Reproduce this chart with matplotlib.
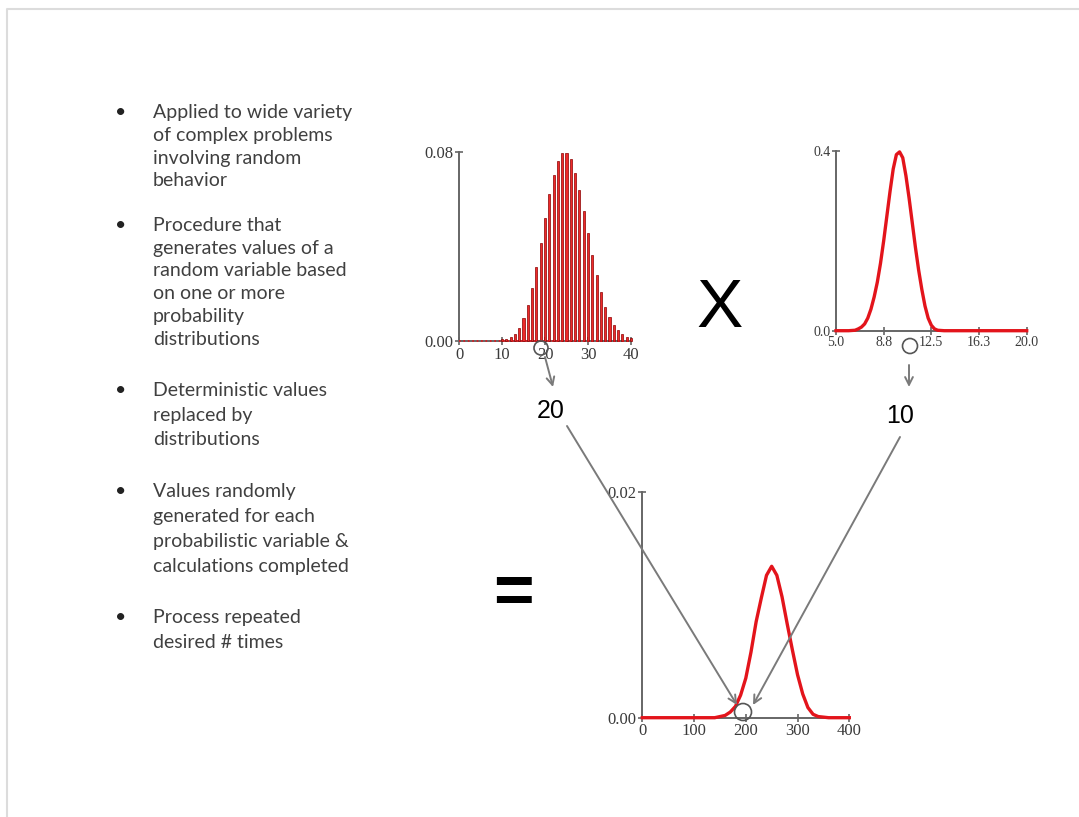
import matplotlib
matplotlib.use('Agg')
import matplotlib.pyplot as plt
from matplotlib.patches import Circle

W, H = 1079, 817

# bullet text
bullets = [
    ["Applied to wide variety", "of complex problems", "involving random", "behavior"],
    ["Procedure that", "generates values of a", "random variable based",
     "on one or more", "probability", "distributions"],
    ["Deterministic values", "replaced by", "distributions"],
    ["Values randomly", "generated for each", "probabilistic variable &",
     "calculations completed"],
    ["Process repeated", "desired # times"],
]

# first distribution (histogram)
hist_x = list(range(10, 41))
hist_y = [0.001, 0.0012, 0.0017, 0.0033, 0.0057, 0.0099, 0.0153, 0.0225, 0.0316,
          0.0415, 0.0522, 0.0624, 0.0705, 0.0762, 0.0797, 0.0797, 0.0769, 0.0712,
          0.0641, 0.0549, 0.0457, 0.0365, 0.028, 0.021, 0.0146, 0.0103, 0.0068,
          0.0047, 0.0033, 0.0021, 0.0016]
hist_xticks = [0, 10, 20, 30, 40]
hist_yticks = [0.0, 0.08]

# second distribution (normal curve)
norm_x = [5.0, 6.0, 6.5, 6.75, 7.0, 7.25, 7.5, 7.75, 8.0, 8.25, 8.5, 8.75, 9.0,
          9.25, 9.5, 9.75, 10.0, 10.25, 10.5, 10.75, 11.0, 11.25, 11.5, 11.75,
          12.0, 12.25, 12.5, 12.75, 13.0, 13.5, 20.0]
norm_y = [0, 0, 0.001, 0.004, 0.008, 0.015, 0.028, 0.048, 0.075, 0.108, 0.150,
          0.200, 0.255, 0.310, 0.360, 0.392, 0.398, 0.385, 0.345, 0.295, 0.240,
          0.185, 0.135, 0.092, 0.055, 0.028, 0.012, 0.004, 0.001, 0, 0]
norm_xticks = [5.0, 8.75, 12.5, 16.25, 20.0]
norm_xlabels = ["5.0", "8.8", "12.5", "16.3", "20.0"]
norm_yticks = [0.0, 0.4]

# result distribution
res_x = [0, 140, 160, 170, 180, 190, 200, 210, 220, 230, 240, 250, 260, 270,
         280, 290, 300, 310, 320, 330, 340, 360, 400]
res_y = [0, 0, 0.0002, 0.0005, 0.001, 0.002, 0.0035, 0.0058, 0.0085, 0.0106,
         0.0126, 0.0134, 0.0126, 0.0107, 0.0083, 0.006, 0.0038, 0.0021, 0.0009,
         0.0003, 0.0001, 0, 0]
res_xticks = [0, 100, 200, 300, 400]
res_yticks = [0.0, 0.02]

sample_labels = ["20", "10"]

AXIS_GRAY = '#666666'
ARROW_GRAY = '#7a7a7a'
RED = '#e3141b'


def px_axes(fig, left, top, right, bottom):
    return fig.add_axes([left / W, 1 - bottom / H, (right - left) / W, (bottom - top) / H])


def style_axes(ax, size):
    for s in ['top', 'right']:
        ax.spines[s].set_visible(False)
    for s in ['left', 'bottom']:
        ax.spines[s].set_color(AXIS_GRAY)
        ax.spines[s].set_linewidth(1.4)
    ax.tick_params(direction='inout', length=6, width=1.2, color=AXIS_GRAY,
                   labelcolor='#3a3a3a', labelsize=size, pad=1)
    for lab in ax.get_xticklabels() + ax.get_yticklabels():
        lab.set_fontfamily('Liberation Serif')
    ax.patch.set_alpha(0)


fig = plt.figure(figsize=(W / 100, H / 100), dpi=100)

# histogram
ax1 = px_axes(fig, 459, 152, 631, 341.5)
ax1.bar(hist_x, hist_y, width=0.5, color='#ee2a2a', edgecolor='#8a0000', linewidth=0.5,
        clip_on=False, zorder=3)
ax1.plot([0, 40], [0, 0], color=RED, lw=1.2, ls=':', zorder=4, clip_on=False)
ax1.set_xlim(0, 40)
ax1.set_ylim(0, 0.08)
ax1.set_xticks(hist_xticks)
ax1.set_yticks(hist_yticks)
ax1.set_yticklabels(["0.00", "0.08"])
style_axes(ax1, 12)

# normal curve
ax2 = px_axes(fig, 836, 151, 1026.7, 330.7)
ax2.plot(norm_x, norm_y, color=RED, lw=2.4, zorder=4, clip_on=False)
ax2.set_xlim(5, 20)
ax2.set_ylim(0, 0.4)
ax2.set_xticks(norm_xticks)
ax2.set_xticklabels(norm_xlabels)
ax2.set_yticks(norm_yticks)
ax2.set_yticklabels(["0.0", "0.4"])
style_axes(ax2, 10)

# result curve
ax3 = px_axes(fig, 642.3, 491.7, 849.3, 717.7)
ax3.plot(res_x, res_y, color=RED, lw=2.4, zorder=4, clip_on=False)
ax3.set_xlim(0, 400)
ax3.set_ylim(0, 0.02)
ax3.set_xticks(res_xticks)
ax3.set_yticks(res_yticks)
ax3.set_yticklabels(["0.00", "0.02"])
style_axes(ax3, 12)

# overlay in pixel coordinates
ov = fig.add_axes([0, 0, 1, 1])
ov.set_xlim(0, W)
ov.set_ylim(H, 0)
ov.axis('off')
ov.patch.set_alpha(0)
ov.set_zorder(10)

ov.plot([7, 7, W], [H, 9, 9], color='#dcdcdc', lw=1.5)

starts = [118, 231, 396, 497, 623]
steps = [22.8, 22.7, 24.5, 25, 25]
for lines, y0, dy in zip(bullets, starts, steps):
    ov.text(121, y0, "\u2022", fontsize=14, family='Lato', color='#222222',
            ha='center', va='baseline')
    for i, line in enumerate(lines):
        ov.text(153, y0 + i * dy, line, fontsize=14, family='Lato',
                color='#404040', ha='left', va='baseline')

ov.text(720, 309, "X", fontsize=50, family='Liberation Sans', color='black',
        ha='center', va='center')
ov.text(513, 595, "=", fontsize=50, family='Liberation Sans', weight='bold',
        color='black', ha='center', va='center')

ov.text(551, 411, sample_labels[0], fontsize=18, family='Liberation Sans',
        color='black', ha='center', va='center')
ov.text(900, 416, sample_labels[1], fontsize=18, family='Liberation Sans',
        color='black', ha='center', va='center')

for cx, cy, r in [(541, 348, 7), (910, 346, 7.5), (743, 712, 8.5)]:
    ov.add_patch(Circle((cx, cy), r, fill=False, ec='#555555', lw=1.2))

arrow = dict(arrowstyle='->', color=ARROW_GRAY, lw=1.4, mutation_scale=14,
             shrinkA=0, shrinkB=0)
ov.annotate('', xy=(553, 387), xytext=(545, 357), arrowprops=arrow)
ov.annotate('', xy=(909, 387), xytext=(909, 365), arrowprops=arrow)
ov.annotate('', xy=(737, 705), xytext=(567, 426), arrowprops=arrow)
ov.annotate('', xy=(753, 705), xytext=(900, 437), arrowprops=arrow)

fig.savefig('out.png', dpi=100)
